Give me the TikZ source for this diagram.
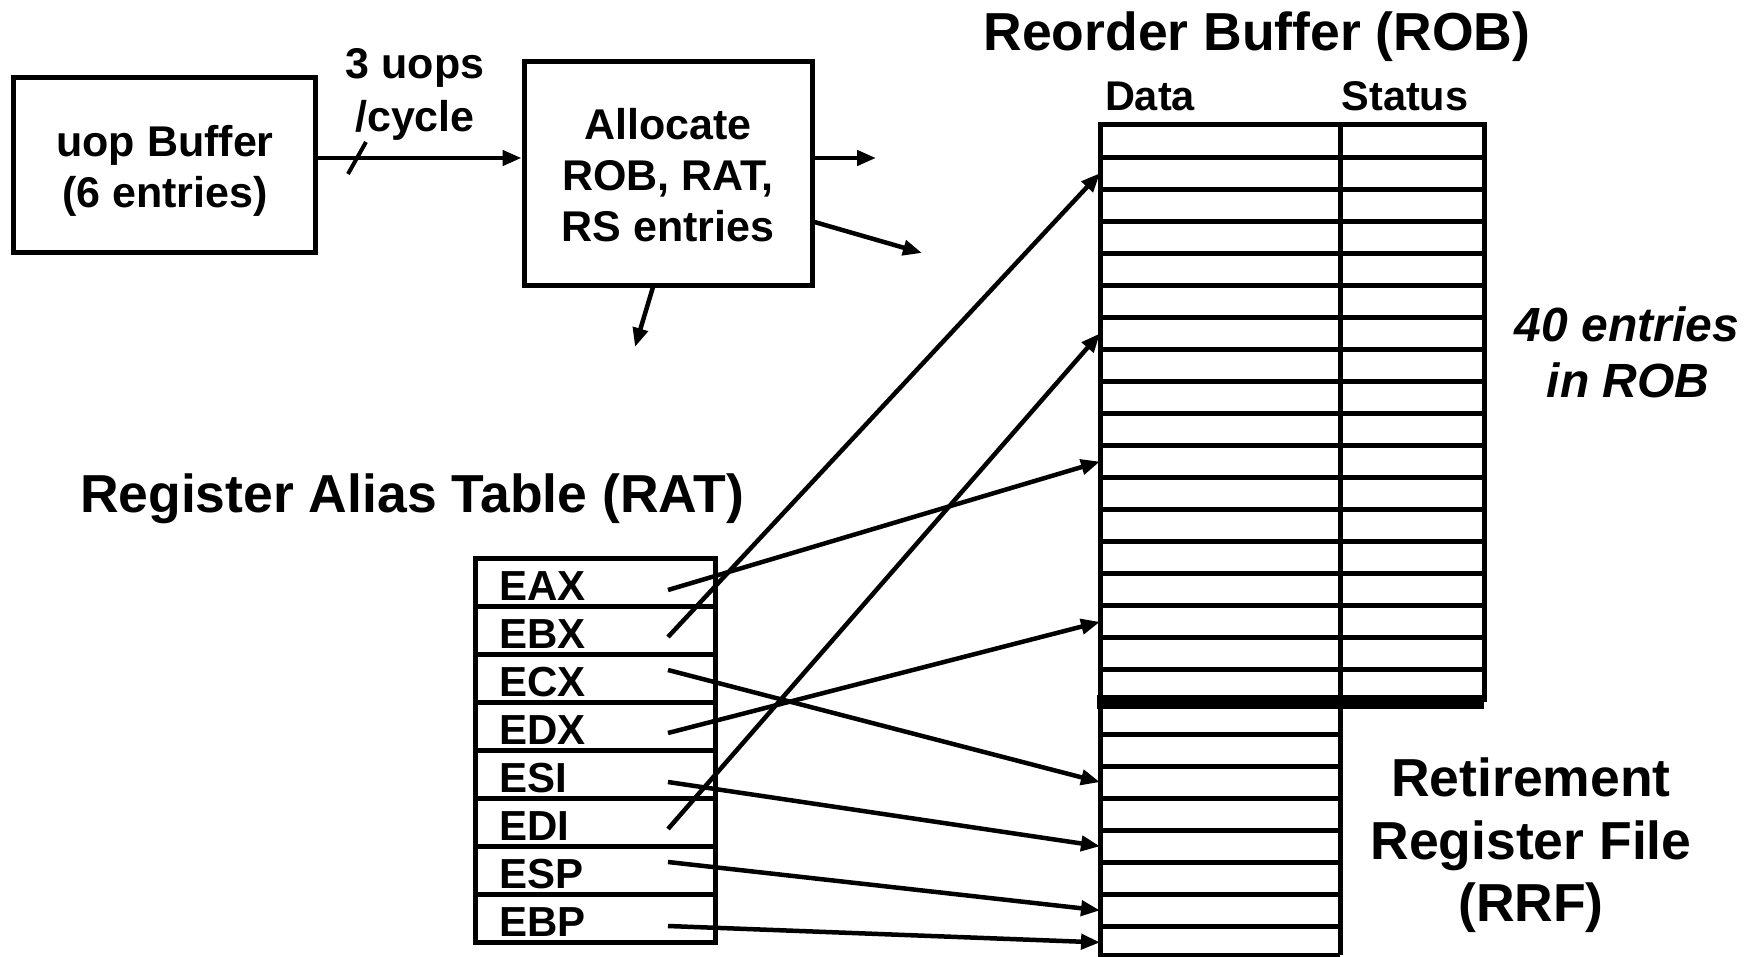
\documentclass[tikz,border=0pt]{standalone}
\usepackage{fontspec}
\setmainfont{Liberation Sans}
\usetikzlibrary{arrows.meta}
\begin{document}
\begin{tikzpicture}[x=1pt,y=-1pt,
  frame/.style={draw, line width=5pt, inner sep=0pt},
  txt/.style={inner sep=0pt, anchor=base, font=\fontsize{43}{51}\selectfont\bfseries},
  reg/.style={inner sep=0pt, anchor=base west, font=\fontsize{42}{50}\selectfont\bfseries},
  head/.style={inner sep=0pt, anchor=base, font=\fontsize{53.5}{64}\selectfont\bfseries},
  note/.style={inner sep=0pt, anchor=base, font=\fontsize{48}{56}\selectfont\bfseries\itshape},
  sub/.style={inner sep=0pt, anchor=base, font=\fontsize{41.5}{50}\selectfont\bfseries},
  conn/.style={line width=4.5pt, -{Triangle[length=19pt,width=15pt]}},
  grid/.style={line width=5pt},
]
\useasboundingbox (0,0) rectangle (1757,957);
\fill[white] (0,0) rectangle (1757,957);

% front end: uop buffer and allocator
\node[frame, minimum width=302pt, minimum height=175pt] (uop) at (164,165) {};
\node[txt] (uop1) at (165,157) {uop Buffer};
\node[txt] (uop2) at (165,208) {(6 entries)};

\node[frame, minimum width=288pt, minimum height=224pt] (alloc) at (668,174) {};
\node[txt] (al1) at (668,140) {Allocate};
\node[txt] (al2) at (668,191) {ROB, RAT,};
\node[txt] (al3) at (668,242) {RS entries};

\node[txt] (rate1) at (415,79) {3 uops};
\node[txt] (rate2) at (415,132) {/cycle};

\draw[conn] (uop.east |- 0,158) -- (alloc.west |- 0,158);
\coordinate (sl1) at (348,174);
\coordinate (sl2) at (366,142);
\draw[line width=4pt] (sl1) -- (sl2);

\coordinate (outA) at (876,158);
\coordinate (outB) at (922,253);
\coordinate (outC) at (635,347);
\draw[conn] (alloc.east |- 0,158) -- (outA);
\draw[conn] (alloc.east |- 0,222) -- (outB);
\coordinate (allocS) at (653,287);
\draw[conn] (allocS) -- (outC);

% reorder buffer and retirement register file
\def\pitch{32.0556}
\node[head] (robtitle) at (1257,51) {Reorder Buffer (ROB)};
\node[sub] (data) at (1150,111) {Data};
\node[sub] (status) at (1405,111) {Status};

\draw[grid] (1100,702) -- (1100,125) -- (1484,125) -- (1484,702);
\draw[grid] (1340,125) -- (1340,955);
\draw[grid] (1100,702) -- (1100,955) -- (1340,955);
\foreach \k in {1,...,17}
  \draw[grid] (1100,{125+\k*\pitch}) -- (1484,{125+\k*\pitch});
\foreach \k in {19,...,25}
  \draw[grid] (1100,{125+\k*\pitch}) -- (1340,{125+\k*\pitch});
\draw[line width=14pt] (1097,702) -- (1484,702);
\foreach \k in {0,...,25}
  \coordinate (rob-\k) at (1100,{125+(\k+0.5)*\pitch});

\node[note] (n1) at (1627,342) {40 entries};
\node[note] (n2) at (1628,398) {in ROB};

\node[head] (rrf1) at (1531,796) {Retirement};
\node[head] (rrf2) at (1531,859) {Register File};
\node[head] (rrf3) at (1531,921) {(RRF)};

% register alias table
\node[head] (rattitle) at (412,512) {Register Alias Table (RAT)};
\draw[grid] (475,558) rectangle (715,942);
\foreach \k in {1,...,7}
  \draw[grid] (475,{558+48*\k}) -- (715,{558+48*\k});
\foreach \r [count=\i from 0] in {EAX,EBX,ECX,EDX,ESI,EDI,ESP,EBP}
  \node[reg] (reg-\r) at (499,{600+48*\i}) {\r};

\coordinate (s-EAX) at (668,590);
\coordinate (s-EBX) at (668,637);
\coordinate (s-ECX) at (668,670);
\coordinate (s-EDX) at (668,733);
\coordinate (s-ESI) at (668,782);
\coordinate (s-EDI) at (668,829);
\coordinate (s-ESP) at (668,862);
\coordinate (s-EBP) at (668,926);

\draw[conn] (s-EAX) -- (rob-10);
\draw[conn] (s-EBX) -- (rob-1);
\draw[conn] (s-ECX) -- (rob-20);
\draw[conn] (s-EDX) -- (rob-15);
\draw[conn] (s-ESI) -- (rob-22);
\draw[conn] (s-EDI) -- (rob-6);
\draw[conn] (s-ESP) -- (rob-24);
\draw[conn] (s-EBP) -- (rob-25);
\end{tikzpicture}
\end{document}
